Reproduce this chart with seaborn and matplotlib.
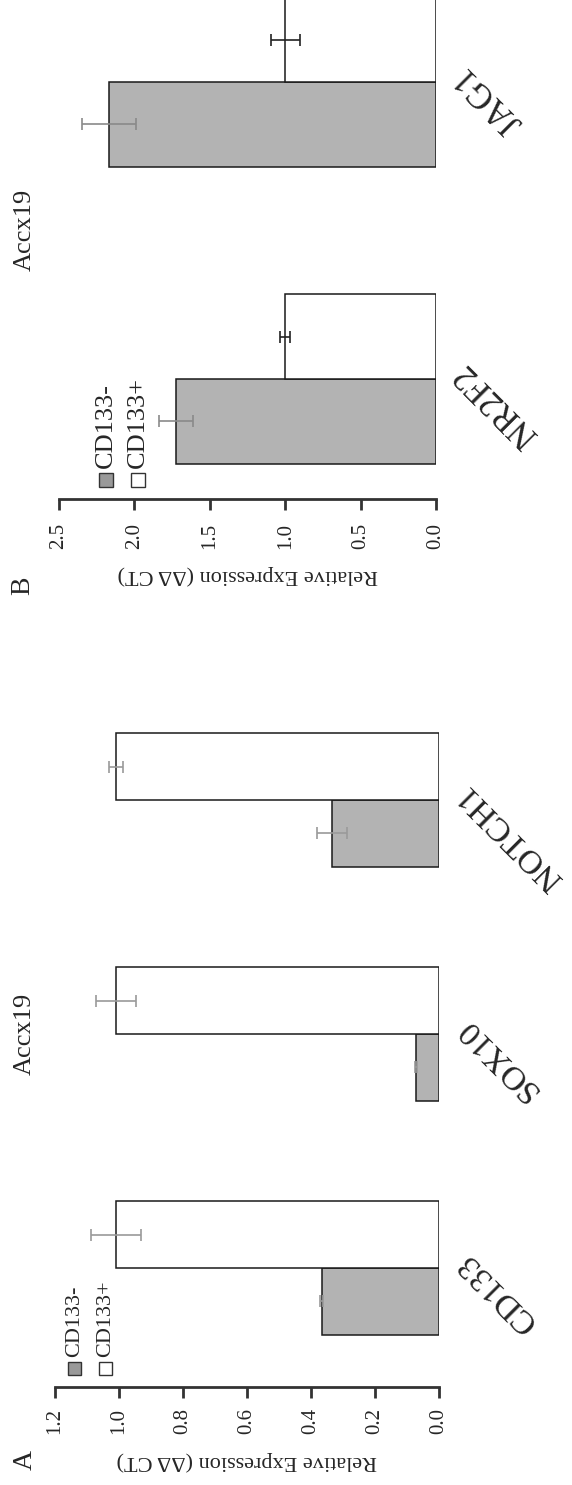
import matplotlib
matplotlib.use("Agg")
import matplotlib.pyplot as plt
import seaborn as sns
import pandas as pd
from matplotlib.patches import Rectangle

# ---- data -------------------------------------------------------------
cell_line = "Accx19"
groups = ["CD133-", "CD133+"]
value_label = "Relative Expression (ΔΔ CT)"

# panel A
genes_a = ["CD133", "SOX10", "NOTCH1"]
neg_a = [0.366, 0.073, 0.334]
neg_a_err = [0.005, 0.003, 0.046]
pos_a = [1.01, 1.01, 1.01]
pos_a_err = [0.078, 0.062, 0.021]
ticks_a = [0.0, 0.2, 0.4, 0.6, 0.8, 1.0, 1.2]

# panel B
genes_b = ["NR2F2", "JAG1"]
neg_b = [1.727, 2.168]
neg_b_err = [0.113, 0.18]
pos_b = [1.0, 1.0]
pos_b_err = [0.033, 0.095]
ticks_b = [0.0, 0.5, 1.0, 1.5, 2.0, 2.5]

# ---- style ------------------------------------------------------------
sns.set_style("white")
plt.rcParams["font.family"] = ["Liberation Serif", "DejaVu Serif"]

W, H = 572, 1485
palette = {groups[0]: "#b3b3b3", groups[1]: "#ffffff"}


def fx(px):
    return px / W


def fy(py):
    return 1 - py / H


def frame(genes, neg, pos):
    return pd.DataFrame({
        "gene": list(genes) * 2,
        "group": [groups[0]] * len(genes) + [groups[1]] * len(genes),
        "value": list(neg) + list(pos),
    })


def panel(ax, genes, neg, pos, errs, err_colors, ticks, ylim,
          tick_pad, gene_size):
    df = frame(genes, neg, pos)
    sns.barplot(data=df, x="value", y="gene", hue="group", order=genes,
                hue_order=groups, palette=palette, orient="h", width=0.57,
                edgecolor="#1a1a1a", linewidth=1.1, errorbar=None,
                legend=False, ax=ax)
    for container, err, col in zip(ax.containers, errs, err_colors):
        ys = [b.get_y() + b.get_height() / 2 for b in container]
        xs = [b.get_width() for b in container]
        ax.errorbar(xs, ys, xerr=err, fmt="none", ecolor=col,
                    elinewidth=1.2, capsize=4, capthick=1.2, zorder=5)

    ax.set_xlim(ticks[-1], 0)
    ax.set_ylim(*ylim)
    sns.despine(ax=ax, left=True, top=True, right=True)
    ax.spines["bottom"].set_linewidth(2)
    ax.spines["bottom"].set_color("#333333")

    ax.set_xticks(ticks)
    ax.set_xticklabels([f"{t:.1f}" for t in ticks])
    ax.tick_params(axis="x", direction="out", length=8, width=2,
                   color="#333333", labelsize=15, labelrotation=90,
                   pad=tick_pad, bottom=True)

    ax.yaxis.tick_right()
    ax.set_yticks(range(len(genes)))
    ax.set_yticklabels(genes, rotation=135, rotation_mode="anchor",
                       ha="right", va="top", fontsize=gene_size)
    ax.tick_params(axis="y", length=0, pad=9)
    ax.set_ylabel("")
    ax.set_xlabel(value_label, rotation=180, fontsize=16, labelpad=12)


def legend(fig, x_gray, x_white, y_top, size, text_bottom, fontsize):
    for x0, name in ((x_gray, groups[0]), (x_white, groups[1])):
        face = "#999999" if name == groups[0] else "#ffffff"
        fig.add_artist(Rectangle((fx(x0), fy(y_top + size)), size / W,
                                 size / H, transform=fig.transFigure,
                                 facecolor=face, edgecolor="#333333",
                                 linewidth=1.0))
        fig.text(fx(x0 + size / 2), fy(text_bottom), name, rotation=90,
                 ha="center", va="bottom", fontsize=fontsize)


fig = plt.figure(figsize=(W / 100, H / 100), dpi=100)

ax_a = fig.add_axes([fx(55), fy(1387), 384 / W, 706 / H])
panel(ax_a, genes_a, neg_a, pos_a, [neg_a_err, pos_a_err],
      ["#9a9a9a", "#9a9a9a"], ticks_a, (-0.509, 2.509), 7, 24.5)

ax_b = fig.add_axes([fx(59), fy(499), 377 / W, 538 / H])
panel(ax_b, genes_b, neg_b, pos_b, [neg_b_err, pos_b_err],
      ["#8a8a8a", "#222222"], ticks_b, (-0.404, 1.407), 9, 25)

# panel titles and letters
fig.text(fx(25), fy(1034), cell_line, rotation=90, ha="center",
         va="center", fontsize=19)
fig.text(fx(25), fy(230), cell_line, rotation=90, ha="center",
         va="center", fontsize=19)
fig.text(fx(25), fy(1460), "A", rotation=90, ha="center", va="center",
         fontsize=20)
fig.text(fx(23), fy(586), "B", rotation=90, ha="center", va="center",
         fontsize=20)

legend(fig, 68, 99, 1362, 13, 1357, 16)
legend(fig, 99, 131, 473, 14, 468, 19)

fig.savefig("out.png", dpi=100)
